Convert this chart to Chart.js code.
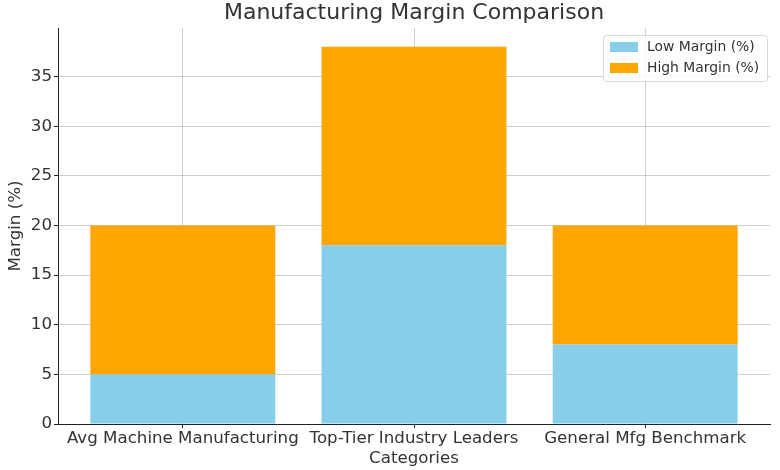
<!DOCTYPE html>
<html>
<head>
<meta charset="utf-8">
<script src="https://cdn.jsdelivr.net/npm/chart.js@4"></script>
<style>
html,body{margin:0;padding:0;background:#fff;}
#wrap{width:780px;height:470px;position:relative;}
</style>
</head>
<body>
<div id="wrap"><canvas id="c" width="780" height="470"></canvas></div>
<script>
const categories = ["Avg Machine Manufacturing", "Top-Tier Industry Leaders", "General Mfg Benchmark"];
const lowMargin = [5, 18, 8];
const highMargin = [15, 20, 12];
const yTicks = [0, 5, 10, 15, 20, 25, 30, 35];
const seriesNames = ["Low Margin (%)", "High Margin (%)"];

const FONT = "'DejaVu Sans', sans-serif";
const TEXT = '#333333';
const GRID = 'rgba(128,128,128,0.38)';

const legendPlugin = {
  id: 'boxLegend',
  afterDraw(chart) {
    const ctx = chart.ctx;
    const x = 603, y = 35, w = 164, h = 46;
    ctx.save();
    ctx.fillStyle = 'rgba(255,255,255,0.85)';
    ctx.strokeStyle = '#d8d8d8';
    ctx.lineWidth = 1;
    ctx.beginPath();
    if (ctx.roundRect) ctx.roundRect(x + 0.5, y + 0.5, w, h, 3); else ctx.rect(x + 0.5, y + 0.5, w, h);
    ctx.fill();
    ctx.stroke();
    ctx.font = "13.9px " + FONT;
    ctx.textBaseline = 'middle';
    chart.data.datasets.forEach((ds, i) => {
      const cy = y + 12 + i * 21;
      ctx.fillStyle = ds.backgroundColor;
      ctx.fillRect(x + 7, cy - 5, 28, 10);
      ctx.fillStyle = TEXT;
      ctx.fillText(ds.label, x + 44, cy);
    });
    ctx.restore();
  }
};

new Chart(document.getElementById('c'), {
  type: 'bar',
  data: {
    datasets: [
      { label: seriesNames[0], data: lowMargin.map((v, i) => ({ x: i, y: v })), backgroundColor: '#87CEEB', borderWidth: 0 },
      { label: seriesNames[1], data: highMargin.map((v, i) => ({ x: i, y: v })), backgroundColor: '#FFA500', borderWidth: 0 }
    ]
  },
  options: {
    responsive: false,
    animation: false,
    devicePixelRatio: 1,
    layout: { padding: { left: 0, right: 10, top: 0, bottom: 0 } },
    datasets: { bar: { barPercentage: 0.8, categoryPercentage: 1.0 } },
    plugins: {
      legend: { display: false },
      tooltip: { enabled: false },
      title: {
        display: true,
        fullSize: false,
        text: 'Manufacturing Margin Comparison',
        color: TEXT,
        font: { family: FONT, size: 22, weight: 'normal' },
        padding: { top: 0, bottom: 1.6 }
      }
    },
    scales: {
      x: {
        type: 'linear',
        stacked: true,
        offset: false,
        min: -0.54,
        max: 2.54,
        z: 1,
        afterBuildTicks(s) { s.ticks = categories.map((c, i) => ({ value: i })); },
        afterFit(s) { s.height = 46; },
        ticks: {
          color: TEXT,
          font: { family: FONT, size: 16.67 },
          padding: 1,
          maxRotation: 0,
          autoSkip: false,
          callback: (v) => categories[v]
        },
        grid: {
          offset: false,
          color: GRID,
          lineWidth: 1,
          borderDash: [3, 2],
          tickColor: '#222',
          tickLength: 4,
          tickBorderDash: [],
          tickWidth: 1
        },
        border: { display: true, color: '#222', width: 1 },
        title: {
          display: true,
          text: 'Categories',
          color: TEXT,
          font: { family: FONT, size: 16.67 },
          padding: { top: 0, bottom: 1.5 }
        }
      },
      y: {
        stacked: true,
        min: 0,
        max: 39.9,
        z: 1,
        afterBuildTicks(s) { s.ticks = yTicks.map(v => ({ value: v })); },
        afterFit(s) { s.width = 58; },
        ticks: {
          color: TEXT,
          font: { family: FONT, size: 16.67 },
          padding: 2
        },
        grid: {
          color: GRID,
          lineWidth: 1,
          borderDash: [3, 2],
          tickColor: '#222',
          tickLength: 4,
          tickBorderDash: [],
          tickWidth: 1
        },
        border: { display: true, color: '#222', width: 1 },
        title: {
          display: true,
          text: 'Margin (%)',
          color: TEXT,
          font: { family: FONT, size: 16.67 },
          padding: { top: 6, bottom: 0 }
        }
      }
    }
  },
  plugins: [legendPlugin]
});
</script>
</body>
</html>
